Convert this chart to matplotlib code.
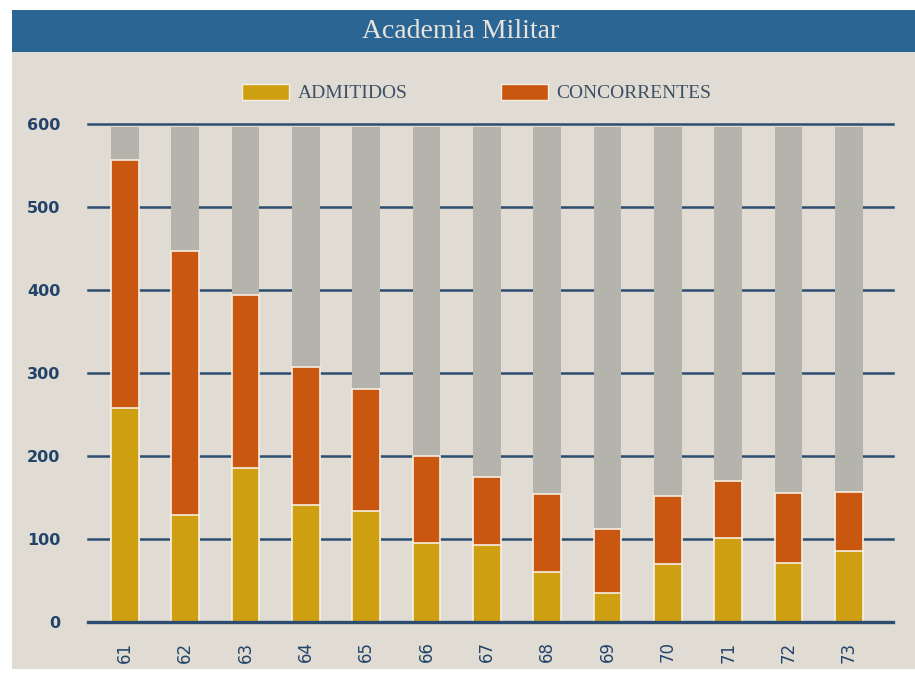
import matplotlib
matplotlib.use("Agg")
import matplotlib.pyplot as plt
from matplotlib.patches import Rectangle, Patch
import numpy as np

years = ["61", "62", "63", "64", "65", "66", "67", "68", "69", "70", "71", "72", "73"]
admitidos = [258, 129, 186, 141, 134, 95, 93, 60, 35, 70, 101, 71, 86]
concorrentes = [557, 447, 394, 307, 281, 200, 175, 154, 112, 152, 170, 155, 157]
scale_max = 600
yticks = [0, 100, 200, 300, 400, 500, 600]

c_adm = "#cf9f12"
c_conc = "#c9570f"
c_grey = "#b5b4ac"
c_bg = "#e0dcd3"
c_head = "#2b6594"
c_grid = "#2c4d70"
c_text = "#22446a"

W, H = 915, 673
fig = plt.figure(figsize=(W / 100, H / 100), dpi=100, facecolor="white")

# background panel and header
fig.patches.append(Rectangle((12 / W, 4 / H), 1 - 12 / W, 1 - 4 / H - 10 / H,
                             transform=fig.transFigure, facecolor=c_bg, edgecolor="none", zorder=-10))
fig.patches.append(Rectangle((12 / W, 1 - 52 / H), 1 - 12 / W, 42 / H,
                             transform=fig.transFigure, facecolor=c_head, edgecolor="none", zorder=-9))
fig.text(461 / W, 1 - 32 / H, "Academia Militar", ha="center", va="center",
         color="#e8e4dc", fontsize=20, family="Liberation Serif")

ax = fig.add_axes([88 / W, 51 / H, (893 - 88) / W, (622 - 124) / H])
ax.set_facecolor("none")
x = np.arange(len(years))
bw = 0.46

for t in yticks[1:]:
    ax.axhline(t, color=c_grid, lw=1.8, zorder=1, clip_on=False)
ax.axhline(0, color=c_grid, lw=2.4, zorder=5, clip_on=False)

ax.bar(x, [scale_max - 4] * len(x), width=bw, color=c_grey, zorder=2)
ax.bar(x, concorrentes, width=bw, color=c_conc, edgecolor="#f6eee2", linewidth=1.2, zorder=3)
ax.bar(x, admitidos, width=bw, color=c_adm, edgecolor="#f6eee2", linewidth=1.2, zorder=4)

ax.set_xlim(-0.61, len(x) - 1 + 0.73)
ax.set_ylim(0, scale_max)
ax.set_yticks(yticks)
ax.set_yticklabels([str(v) for v in yticks], color=c_text, fontsize=11.5, fontweight="bold")
ax.set_xticks(x)
ax.set_xticklabels(years, rotation=90, color=c_text, fontsize=12)
ax.tick_params(axis="both", length=0)
ax.tick_params(axis="y", pad=20)
ax.tick_params(axis="x", pad=14)
for s in ax.spines.values():
    s.set_visible(False)

handles = [Patch(facecolor=c_adm, edgecolor="#f6eee2", label="ADMITIDOS"),
           Patch(facecolor=c_conc, edgecolor="#f6eee2", label="CONCORRENTES")]
leg = fig.legend(handles=handles, loc="center", bbox_to_anchor=(477 / W, 1 - 93 / H), ncol=2,
                 frameon=False, handlelength=2.4, handleheight=0.9, handletextpad=0.45,
                 columnspacing=4.8, prop={"family": "Liberation Serif", "size": 14})
for t in leg.get_texts():
    t.set_color("#3d5066")

fig.savefig("out.png", dpi=100, facecolor="white")
